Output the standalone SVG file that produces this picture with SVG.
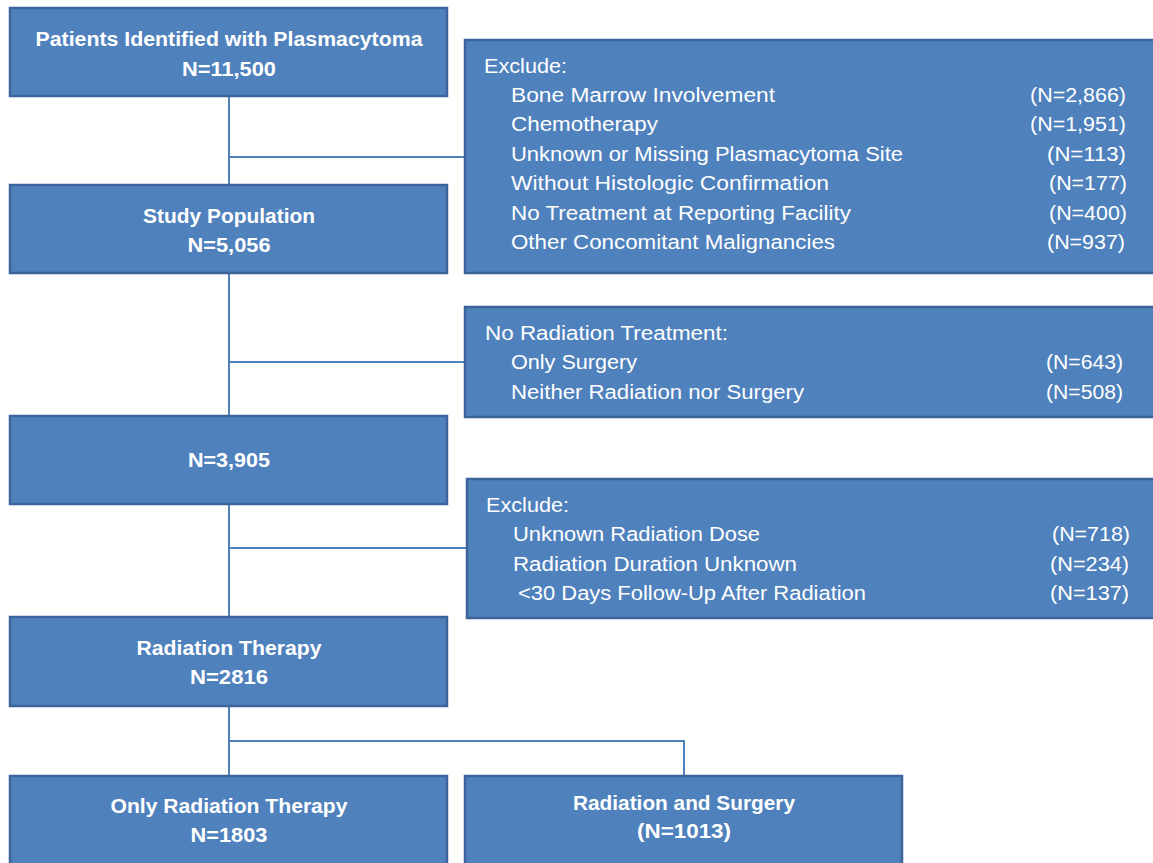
<svg xmlns="http://www.w3.org/2000/svg" width="1153" height="863" viewBox="0 0 1153 863">
<style>
.box{fill:#4F81BD;stroke:#3B659A;stroke-width:2.5}
.c{fill:none;stroke:#4F81BD;stroke-width:2}
.b{font-family:"Liberation Sans",Arial,sans-serif;font-weight:bold;font-size:20px;fill:#fff;text-anchor:middle}
.t{font-family:"Liberation Sans",Arial,sans-serif;font-size:20px;fill:#fff}
.r{text-anchor:end}
</style>
<rect width="1153" height="863" fill="#fff"/>
<g id="connectors">
<path class="c" d="M229 96V185M229 157H465"/>
<path class="c" d="M229 273V416M229 362H465"/>
<path class="c" d="M229 504V617M229 548H467"/>
<path class="c" d="M229 706V776M229 741H684V776"/>
</g>
<g id="n1">
<rect class="box" x="10" y="8" width="437" height="88"/>
<text class="b" x="229" y="46" textLength="387" lengthAdjust="spacingAndGlyphs">Patients Identified with Plasmacytoma</text>
<text class="b" x="229" y="76" textLength="94" lengthAdjust="spacingAndGlyphs">N=11,500</text>
</g>
<g id="ex1">
<rect class="box" x="465" y="40" width="690" height="233"/>
<text class="t" x="484" y="73" textLength="83" lengthAdjust="spacingAndGlyphs">Exclude:</text>
<text class="t" x="511" y="102" textLength="264" lengthAdjust="spacingAndGlyphs">Bone Marrow Involvement</text>
<text class="t" x="511" y="131" textLength="147" lengthAdjust="spacingAndGlyphs">Chemotherapy</text>
<text class="t" x="511" y="161" textLength="392" lengthAdjust="spacingAndGlyphs">Unknown or Missing Plasmacytoma Site</text>
<text class="t" x="511" y="190" textLength="318" lengthAdjust="spacingAndGlyphs">Without Histologic Confirmation</text>
<text class="t" x="511" y="220" textLength="340" lengthAdjust="spacingAndGlyphs">No Treatment at Reporting Facility</text>
<text class="t" x="511" y="249" textLength="324" lengthAdjust="spacingAndGlyphs">Other Concomitant Malignancies</text>
<text class="t r" x="1126" y="102" textLength="96" lengthAdjust="spacingAndGlyphs">(N=2,866)</text>
<text class="t r" x="1126" y="131" textLength="96" lengthAdjust="spacingAndGlyphs">(N=1,951)</text>
<text class="t r" x="1126" y="161" textLength="79" lengthAdjust="spacingAndGlyphs">(N=113)</text>
<text class="t r" x="1127" y="190" textLength="78" lengthAdjust="spacingAndGlyphs">(N=177)</text>
<text class="t r" x="1127" y="220" textLength="78" lengthAdjust="spacingAndGlyphs">(N=400)</text>
<text class="t r" x="1125" y="249" textLength="78" lengthAdjust="spacingAndGlyphs">(N=937)</text>
</g>
<g id="n2">
<rect class="box" x="10" y="185" width="437" height="88"/>
<text class="b" x="229" y="223" textLength="172" lengthAdjust="spacingAndGlyphs">Study Population</text>
<text class="b" x="229" y="252" textLength="83" lengthAdjust="spacingAndGlyphs">N=5,056</text>
</g>
<g id="ex2">
<rect class="box" x="465" y="307" width="690" height="110"/>
<text class="t" x="485" y="340" textLength="243" lengthAdjust="spacingAndGlyphs">No Radiation Treatment:</text>
<text class="t" x="511" y="369" textLength="126" lengthAdjust="spacingAndGlyphs">Only Surgery</text>
<text class="t" x="511" y="399" textLength="293" lengthAdjust="spacingAndGlyphs">Neither Radiation nor Surgery</text>
<text class="t r" x="1123" y="369" textLength="77" lengthAdjust="spacingAndGlyphs">(N=643)</text>
<text class="t r" x="1123" y="399" textLength="77" lengthAdjust="spacingAndGlyphs">(N=508)</text>
</g>
<g id="n3">
<rect class="box" x="10" y="416" width="437" height="88"/>
<text class="b" x="229" y="467" textLength="82" lengthAdjust="spacingAndGlyphs">N=3,905</text>
</g>
<g id="ex3">
<rect class="box" x="467" y="479" width="688" height="139"/>
<text class="t" x="486" y="512" textLength="83" lengthAdjust="spacingAndGlyphs">Exclude:</text>
<text class="t" x="513" y="541" textLength="247" lengthAdjust="spacingAndGlyphs">Unknown Radiation Dose</text>
<text class="t" x="513" y="571" textLength="284" lengthAdjust="spacingAndGlyphs">Radiation Duration Unknown</text>
<text class="t" x="518" y="600" textLength="348" lengthAdjust="spacingAndGlyphs">&lt;30 Days Follow-Up After Radiation</text>
<text class="t r" x="1130" y="541" textLength="78" lengthAdjust="spacingAndGlyphs">(N=718)</text>
<text class="t r" x="1129" y="571" textLength="79" lengthAdjust="spacingAndGlyphs">(N=234)</text>
<text class="t r" x="1129" y="600" textLength="79" lengthAdjust="spacingAndGlyphs">(N=137)</text>
</g>
<g id="n4">
<rect class="box" x="10" y="617" width="437" height="89"/>
<text class="b" x="229" y="655" textLength="185" lengthAdjust="spacingAndGlyphs">Radiation Therapy</text>
<text class="b" x="229" y="684" textLength="78" lengthAdjust="spacingAndGlyphs">N=2816</text>
</g>
<g id="n5">
<rect class="box" x="10" y="776" width="437" height="90"/>
<text class="b" x="229" y="813" textLength="237" lengthAdjust="spacingAndGlyphs">Only Radiation Therapy</text>
<text class="b" x="229" y="842" textLength="77" lengthAdjust="spacingAndGlyphs">N=1803</text>
</g>
<g id="n6">
<rect class="box" x="465" y="776" width="437" height="90"/>
<text class="b" x="684" y="810" textLength="222" lengthAdjust="spacingAndGlyphs">Radiation and Surgery</text>
<text class="b" x="684" y="838" textLength="94" lengthAdjust="spacingAndGlyphs">(N=1013)</text>
</g>
</svg>
